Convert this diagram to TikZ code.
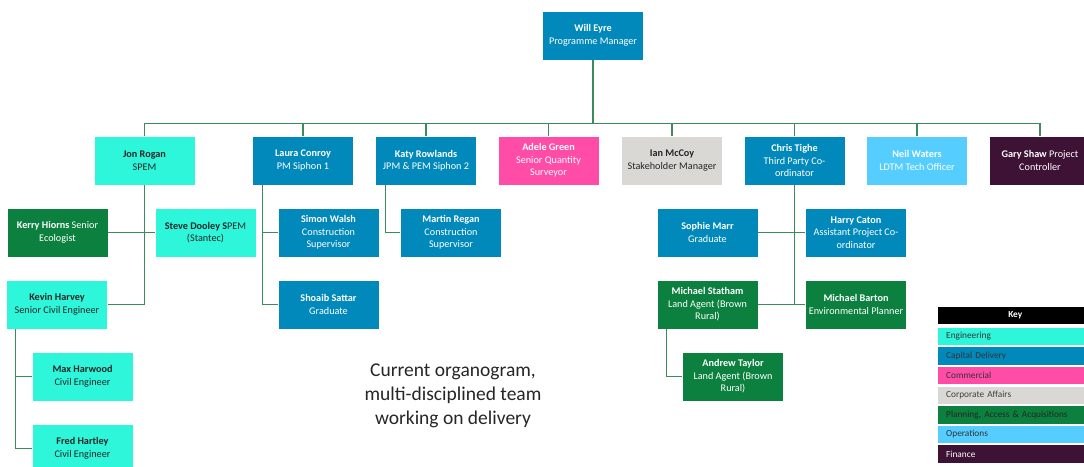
\documentclass[tikz,border=0pt]{standalone}
\usepackage{fontspec}
\setmainfont{Carlito}
\definecolor{engc}{RGB}{46,246,218}
\definecolor{capc}{RGB}{0,137,186}
\definecolor{comc}{RGB}{255,76,166}
\definecolor{corc}{RGB}{217,216,212}
\definecolor{plac}{RGB}{12,128,62}
\definecolor{opsc}{RGB}{85,206,255}
\definecolor{finc}{RGB}{62,18,52}
\definecolor{linkc}{RGB}{58,140,92}
\tikzset{
  box/.style={rectangle, draw=white, line width=0.6pt, minimum width=101pt, minimum height=49pt,
    inner sep=1pt, align=center, font=\fontsize{10.2}{12.5}\selectfont},
  eng/.style={box, fill=engc, text=black!85},
  capd/.style={box, fill=capc, text=white},
  comm/.style={box, fill=comc, text=white},
  corp/.style={box, fill=corc, text=black!85},
  plan/.style={box, fill=plac, text=white},
  ops/.style={box, fill=opsc, text=white},
  fin/.style={box, fill=finc, text=white},
  link/.style={draw=linkc, line width=1.1pt},
  keyrow/.style={rectangle, text width=138pt, minimum height=17.5pt, anchor=west,
    inner ysep=0pt, inner xsep=8pt, align=left, font=\fontsize{9.3}{11}\selectfont}
}
\begin{document}
\begin{tikzpicture}[x=1pt, y=-1pt]
  \clip (0,0) rectangle (1084,466);
  \fill[white] (0,0) rectangle (1084,466);
  % top of the tree
  \node (will) at (593,35.5) [capd] {\textbf{Will Eyre}\\Programme Manager};
  \node (jon) at (144.5,160.5) [eng] {\textbf{Jon Rogan}\\SPEM};
  \node (laura) at (303,160.5) [capd] {\textbf{Laura Conroy}\\PM Siphon 1};
  \node (katy) at (426,160.5) [capd] {\textbf{Katy Rowlands}\\JPM \& PEM Siphon 2};
  \node (adele) at (548.5,160.5) [comm] {\textbf{Adele Green}\\Senior Quantity\\Surveyor};
  \node (ian) at (672,160.5) [corp] {\textbf{Ian McCoy}\\Stakeholder Manager};
  \node (chris) at (794.5,160.5) [capd] {\textbf{Chris Tighe}\\Third Party Co-\\ordinator};
  \node (neil) at (917,160.5) [ops] {\textbf{Neil Waters}\\LDTM Tech Officer};
  \node (gary) at (1040,160.5) [fin] {\textbf{Gary Shaw} Project\\Controller};
  % second and lower levels
  \node (kerry) at (57.5,232.5) [plan] {\textbf{Kerry Hiorns} Senior\\Ecologist};
  \node (steve) at (205.5,232.5) [eng] {\textbf{Steve Dooley S}PEM\\(Stantec)};
  \node (kevin) at (57,304.5) [eng] {\textbf{Kevin Harvey}\\Senior Civil Engineer};
  \node (max) at (82.5,376.5) [eng] {\textbf{Max Harwood}\\Civil Engineer};
  \node (fred) at (82.5,448.5) [eng] {\textbf{Fred Hartley}\\Civil Engineer};
  \node (simon) at (328.5,232.5) [capd] {\textbf{Simon Walsh}\\Construction\\Supervisor};
  \node (shoaib) at (328.5,304.5) [capd] {\textbf{Shoaib Sattar}\\Graduate};
  \node (martin) at (451,232.5) [capd] {\textbf{Martin Regan}\\Construction\\Supervisor};
  \node (sophie) at (707.5,232.5) [capd] {\textbf{Sophie Marr}\\Graduate};
  \node (harry) at (856,232.5) [capd] {\textbf{Harry Caton}\\Assistant Project Co-\\ordinator};
  \node (statham) at (707.5,304.5) [plan] {\textbf{Michael Statham}\\Land Agent (Brown\\Rural)};
  \node (barton) at (856,304.5) [plan] {\textbf{Michael Barton}\\Environmental Planner};
  \node (andrew) at (733,376.5) [plan] {\textbf{Andrew Taylor}\\Land Agent (Brown\\Rural)};
  % connectors
  \draw[link] (will.south) -- ++(0,64);
  \draw[link] (jon.north) -- ++(0,-12) -| (gary.north);
  \foreach \n in {laura,katy,adele,ian,chris,neil} {
    \draw[link] (\n.north) -- ++(0,-12);
  }
  \draw[link] (jon.south) |- (kevin.east);
  \draw[link] (kerry.east) -- (steve.west);
  \draw[link] ([xshift=9]kevin.south west) |- (fred.west);
  \draw[link] (max.west) -- ++(-16,0);
  \draw[link] ([xshift=10]laura.south west) |- (shoaib.west);
  \draw[link] (simon.west) -- ++(-15,0);
  \draw[link] ([xshift=10]katy.south west) |- (martin.west);
  \draw[link] (chris.south) -- (chris.south |- barton.west);
  \draw[link] (sophie.east) -- (harry.west);
  \draw[link] (statham.east) -- (barton.west);
  \draw[link] ([xshift=10]statham.south west) |- (andrew.west);
  % caption
  \node (caption) at (453,396) [align=center, font=\fontsize{19.5}{24}\selectfont, text=black!85]
    {Current organogram,\\multi-disciplined team\\working on delivery};
  % key
  \node (key) at (938,315.5) [keyrow, align=center, fill=black, text=white] {\textbf{Key}};
  \foreach \i/\c/\t/\f in {0/engc/Engineering/black!80, 1/capc/Capital Delivery/black!80,
      2/comc/Commercial/black!80, 3/corc/Corporate Affairs/black!75,
      4/plac/{Planning, Access \& Acquisitions}/black!85, 5/opsc/Operations/black!80,
      6/finc/Finance/white!85} {
    \node (key\i) at (938,336.5+19.6*\i) [keyrow, fill=\c, text=\f] {\t};
  }
\end{tikzpicture}
\end{document}
